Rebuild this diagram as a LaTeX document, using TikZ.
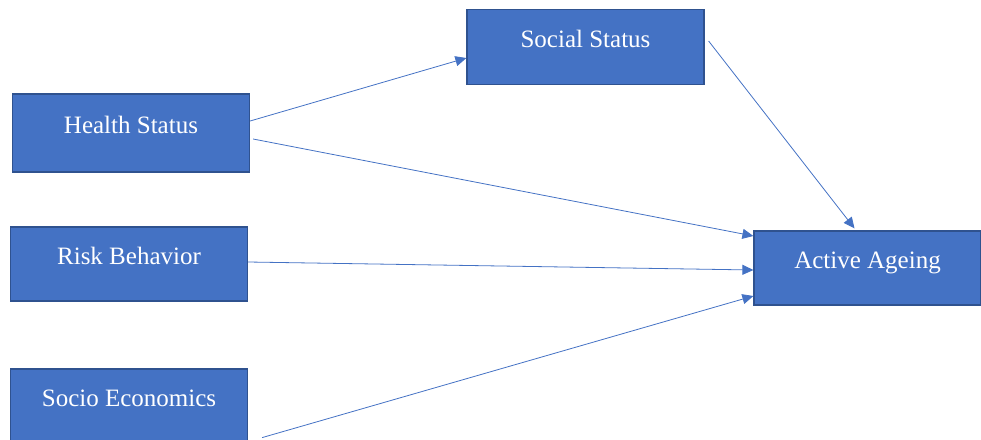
\documentclass[tikz,border=0pt]{standalone}
\usepackage{fontspec}
\setmainfont{Liberation Serif}
\usetikzlibrary{arrows.meta,positioning}
\definecolor{boxblue}{HTML}{4472C4}
\definecolor{boxedge}{HTML}{2F528F}
\tikzset{->, % makes the edges directed
>={Triangle[length=11pt,width=10pt]}, % filled triangle heads
x=1pt, y=-1pt, % one unit is one pixel of the page
box/.style={draw=boxedge, line width=1.2pt, fill=boxblue, text=white,
  minimum width=237pt, minimum height=75pt, text height=17pt, text depth=17pt,
  font=\fontsize{25}{29}\selectfont}, % sets the properties for each box
every edge/.style={draw=boxblue, line width=0.8pt},
}
\begin{document}
\begin{tikzpicture}
\useasboundingbox (0,0) rectangle (981,439);
\clip (0,0) rectangle (981,439);
\node[box] (social) at (585.5,47) {Social Status};
\node[box, minimum height=78pt] (health) at (131,133) {Health Status};
\node[box, minimum height=74pt] (risk) at (129,264) {Risk Behavior};
\node[box, minimum height=74pt] (socio) at (129,406) {Socio Economics};
\node[box, minimum width=227pt, minimum height=74pt] (active) at (867.5,268) {Active Ageing};
\path ([yshift=12pt]health.east) edge ([yshift=-11pt]social.west)
([xshift=3pt,yshift=-6pt]health.east) edge ([yshift=32pt]active.west)
([yshift=2pt]risk.east) edge ([yshift=-2pt]active.west)
([xshift=14pt,yshift=6pt]socio.south east) edge ([yshift=-28pt]active.west)
([xshift=4pt,yshift=6pt]social.east) edge ([xshift=-13pt,yshift=2pt]active.north);
\end{tikzpicture}
\end{document}
